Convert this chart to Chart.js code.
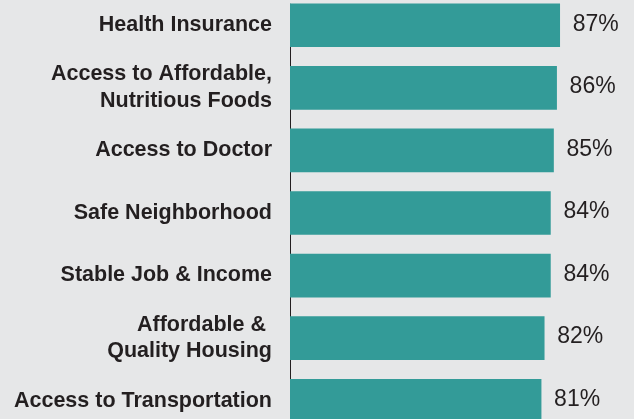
<!DOCTYPE html>
<html>
<head>
<meta charset="utf-8">
<script src="https://cdn.jsdelivr.net/npm/chart.js@4"></script>
<style>
  html, body { margin: 0; padding: 0; background: #e6e7e8; overflow: hidden; }
  #wrap { position: absolute; left: 0; top: -6px; width: 634px; height: 438px; }
</style>
</head>
<body>
<div id="wrap"><canvas id="c"></canvas></div>
<script>
const categories = [
  "Health Insurance",
  ["Access to Affordable,", "Nutritious Foods"],
  "Access to Doctor",
  "Safe Neighborhood",
  "Stable Job & Income",
  ["Affordable & ", "Quality Housing"],
  "Access to Transportation"
];
const values = [87, 86, 85, 84, 84, 82, 81];
const valueLabels = ["87%", "86%", "85%", "84%", "84%", "82%", "81%"];

const axisLinePlugin = {
  id: 'axisLine',
  beforeDatasetsDraw(chart) {
    const ctx = chart.ctx;
    const meta = chart.getDatasetMeta(0);
    const first = meta.data[0];
    const x = Math.round(chart.scales.x.getPixelForValue(0)) + 0.5;
    const top = first.y - first.height / 2;
    ctx.save();
    ctx.strokeStyle = '#231f20';
    ctx.lineWidth = 1;
    ctx.beginPath();
    ctx.moveTo(x, top);
    ctx.lineTo(x, chart.chartArea.bottom);
    ctx.stroke();
    ctx.restore();
  }
};

const valuePlugin = {
  id: 'valueLabels',
  afterDatasetsDraw(chart) {
    const ctx = chart.ctx;
    const meta = chart.getDatasetMeta(0);
    ctx.save();
    ctx.font = '23px "Liberation Sans", Arial, sans-serif';
    ctx.fillStyle = '#231f20';
    ctx.textAlign = 'left';
    ctx.textBaseline = 'middle';
    meta.data.forEach((bar, i) => {
      ctx.fillText(valueLabels[i], bar.x + 13, bar.y - 1);
    });
    ctx.restore();
  }
};

new Chart(document.getElementById('c'), {
  type: 'bar',
  data: {
    labels: categories,
    datasets: [{
      data: values,
      backgroundColor: '#339b98',
      borderWidth: 0,
      barThickness: 43
    }]
  },
  options: {
    indexAxis: 'y',
    responsive: true,
    maintainAspectRatio: false,
    animation: false,
    layout: { padding: { left: 0, right: 34, top: 0, bottom: 0 } },
    plugins: { legend: { display: false }, tooltip: { enabled: false } },
    scales: {
      x: { display: false, min: 0, max: 100 },
      y: {
        afterFit(scale) { scale.width = 290; scale.paddingTop = 0; scale.paddingBottom = 0; },
        grid: { display: false, drawTicks: false },
        border: { display: false },
        ticks: {
          padding: 18,
          color: '#231f20',
          font: { family: '"Liberation Sans", Arial, sans-serif', weight: 'bold', size: 21.5, lineHeight: 1.24 }
        }
      }
    }
  },
  plugins: [axisLinePlugin, valuePlugin]
});
</script>
</body>
</html>
